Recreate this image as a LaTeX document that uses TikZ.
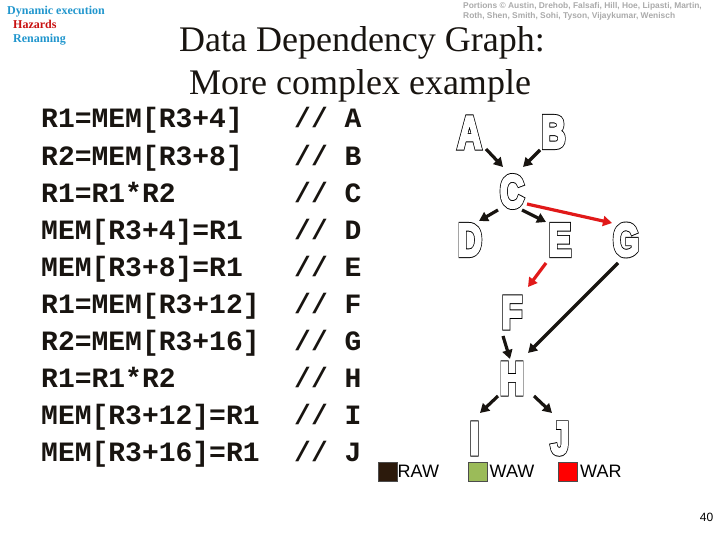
\documentclass[tikz,border=0pt]{standalone}
\usepackage{fontspec}
\usepackage{graphicx}
\setmainfont{Liberation Serif}
\newfontfamily\monof{Liberation Mono}
\newfontfamily\arialf{Liberation Sans}
\usetikzlibrary{arrows.meta}
\definecolor{tealc}{RGB}{33,150,205}
\definecolor{hzred}{RGB}{200,16,16}
\definecolor{rawc}{RGB}{44,26,12}
\definecolor{wawc}{RGB}{155,187,89}
\definecolor{warc}{RGB}{255,0,0}
\definecolor{arred}{RGB}{225,25,25}
\definecolor{inkc}{RGB}{24,20,16}
\definecolor{portc}{RGB}{170,170,170}
% heavy outlined letter: black emboldened glyph, then a white slightly thinner one on top
\newcommand\Lt[1]{\scalebox{0.73}[1]{%
  \rlap{\special{pdf:literal direct 2 Tr 4.4 w 0 j 3 M}#1\special{pdf:literal direct 0 Tr 10 M}}%
  \textcolor{white}{\special{pdf:literal direct 2 Tr 2.5 w 0 j 3 M}#1\special{pdf:literal direct 0 Tr 10 M}}}}
\begin{document}
\begin{tikzpicture}[x=1pt,y=-1pt,
  letter/.style={inner sep=0pt, font=\arialf\bfseries\fontsize{46}{46}\selectfont},
  codeL/.style={anchor=base west, inner sep=0pt, text=inkc, font=\monof\bfseries\fontsize{28}{28}\selectfont},
  titlef/.style={inner sep=0pt, anchor=base, text=inkc, font=\fontsize{36}{36}\selectfont},
  arr/.style={line width=3.2pt, draw=inkc, -{Triangle[length=9pt,width=10pt]}},
  rarr/.style={arr, draw=arred},
  legbox/.style={draw=black!70, line width=0.6pt, minimum width=19pt, minimum height=19pt, inner sep=0pt},
  legtext/.style={anchor=base west, inner sep=0pt, font=\arialf\fontsize{18}{18}\selectfont},
  topl/.style={anchor=base west, inner sep=0pt, font=\bfseries\fontsize{12}{12}\selectfont},
  portl/.style={anchor=base west, inner sep=0pt, text=portc, font=\arialf\bfseries\fontsize{8.4}{8.4}\selectfont}
]
\useasboundingbox (0,0) rectangle (720,540);

% top-left menu
\node[topl, text=tealc] (m1) at (7,15) {Dynamic execution};
\node[topl, text=hzred] (m2) at (13,29) {Hazards};
\node[topl, text=tealc] (m3) at (13,43) {Renaming};

% credits
\node[portl] (p1) at (463,9) {Portions \textcopyright{} Austin, Drehob, Falsafi, Hill, Hoe, Lipasti, Martin,};
\node[portl] (p2) at (463,19) {Roth, Shen, Smith, Sohi, Tyson, Vijaykumar, Wenisch};

% title
\node[titlef] (t1) at (362,52) {Data Dependency Graph:};
\node[titlef] (t2) at (360,95) {More complex example};

% code
\foreach \i/\c/\l in {0/{R1=MEM[R3+4]}/A, 1/{R2=MEM[R3+8]}/B, 2/{R1=R1*R2}/C, 3/{MEM[R3+4]=R1}/D, 4/{MEM[R3+8]=R1}/E, 5/{R1=MEM[R3+12]}/F, 6/{R2=MEM[R3+16]}/G, 7/{R1=R1*R2}/H, 8/{MEM[R3+12]=R1}/I, 9/{MEM[R3+16]=R1}/J}{
  \node[codeL] (code\i) at (41,128+37.1*\i) {\c};
  \node[codeL] (cmt\i) at (294,128+37.1*\i) {// \l};
}

% graph letters
\node[letter] (A) at (469.5,132.5) {\Lt{A}};
\node[letter] (B) at (553.5,132) {\Lt{B}};
\node[letter] (C) at (512,191.5) {\Lt{C}};
\node[letter] (D) at (470,240) {\Lt{D}};
\node[letter] (E) at (560,240) {\Lt{E}};
\node[letter] (G) at (626,240) {\Lt{G}};
\node[letter] (F) at (512,312.5) {\Lt{F}};
\node[letter] (H) at (512,378.5) {\Lt{H}};
\node[letter] (I) at (474.5,438.5) {\Lt{I}};
\node[letter] (J) at (560,438.5) {\Lt{J}};

% dependencies
\draw[arr] ([shift={(16.5,16.5)}]A.center) -- ([shift={(-9,-24.5)}]C.center);
\draw[arr] ([shift={(-13.5,18)}]B.center) -- ([shift={(11,-24.5)}]C.center);
\draw[arr] ([shift={(-14,18.5)}]C.center) -- ([shift={(9,-19)}]D.center);
\draw[arr] ([shift={(10,18.5)}]C.center) -- ([shift={(-14,-18)}]E.center);
\draw[rarr] ([shift={(15,12.5)}]C.center) -- ([shift={(-14,-17)}]G.center);
\draw[rarr] ([shift={(-14,23)}]E.center) -- ([shift={(16,-25.5)}]F.center);
\draw[arr] ([shift={(-8,23)}]G.center) -- ([shift={(16,-25.5)}]H.center);
\draw[arr] ([shift={(-9,23.5)}]F.center) -- ([shift={(-2,-19.5)}]H.center);
\draw[arr] ([shift={(-14,17.5)}]H.center) -- ([shift={(5.5,-25.5)}]I.center);
\draw[arr] ([shift={(22,17.5)}]H.center) -- ([shift={(-8,-25.5)}]J.center);

% legend
\node[legbox, fill=rawc] (kraw) at (387.5,471.5) {};
\node[legtext] (lraw) at (397.5,477) {RAW};
\node[legbox, fill=wawc] (kwaw) at (477.5,471.5) {};
\node[legtext] (lwaw) at (489.5,477) {WAW};
\node[legbox, fill=warc] (kwar) at (567.5,471.5) {};
\node[legtext] (lwar) at (580,477) {WAR};

% page number
\node[anchor=base east, inner sep=0pt, font=\arialf\fontsize{12}{12}\selectfont] (pg) at (713.5,521) {40};
\end{tikzpicture}
\end{document}
